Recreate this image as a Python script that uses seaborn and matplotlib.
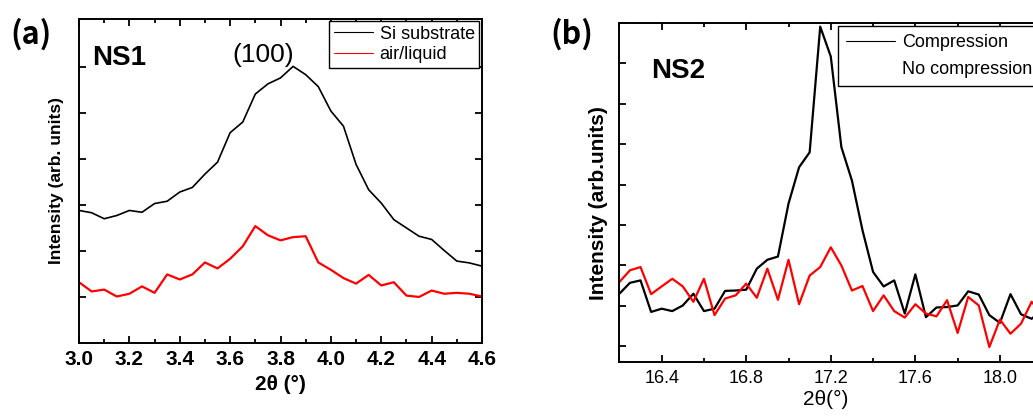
import matplotlib
matplotlib.use("Agg")
import pandas as pd
import matplotlib.pyplot as plt
import seaborn as sns
from matplotlib.ticker import MultipleLocator, FixedLocator

sns.set_style("ticks")
plt.rcParams["font.family"] = ["Liberation Sans", "DejaVu Sans"]
plt.rcParams["text.color"] = "black"
plt.rcParams["axes.labelcolor"] = "black"
plt.rcParams["xtick.color"] = "black"
plt.rcParams["ytick.color"] = "black"

# ---- data (arbitrary intensity units) ----
two_theta_a = [3.00, 3.05, 3.10, 3.15, 3.20, 3.25, 3.30, 3.35, 3.40, 3.45, 3.50,
               3.55, 3.60, 3.65, 3.70, 3.75, 3.80, 3.85, 3.90, 3.95, 4.00, 4.05,
               4.10, 4.15, 4.20, 4.25, 4.30, 4.35, 4.40, 4.45, 4.50, 4.55, 4.60]
si_substrate = [2.88, 2.83, 2.70, 2.77, 2.88, 2.84, 3.03, 3.08, 3.28, 3.38, 3.67,
                3.93, 4.57, 4.80, 5.41, 5.63, 5.76, 6.01, 5.83, 5.57, 5.04, 4.71,
                3.88, 3.33, 3.04, 2.68, 2.50, 2.32, 2.25, 2.01, 1.78, 1.74, 1.67]
air_liquid = [1.32, 1.12, 1.16, 1.01, 1.07, 1.23, 1.09, 1.49, 1.38, 1.49, 1.75,
              1.62, 1.83, 2.10, 2.54, 2.34, 2.23, 2.30, 2.32, 1.75, 1.59, 1.41,
              1.29, 1.48, 1.25, 1.32, 1.03, 1.00, 1.14, 1.07, 1.09, 1.07, 1.01]

two_theta_b = [16.20, 16.25, 16.30, 16.35, 16.40, 16.45, 16.50, 16.55, 16.60, 16.65,
               16.70, 16.75, 16.80, 16.85, 16.90, 16.95, 17.00, 17.05, 17.10, 17.15,
               17.20, 17.25, 17.30, 17.35, 17.40, 17.45, 17.50, 17.55, 17.60, 17.65,
               17.70, 17.75, 17.80, 17.85, 17.90, 17.95, 18.00, 18.05, 18.10, 18.15,
               18.20]
compression = [2.30, 2.57, 2.63, 1.85, 1.93, 1.87, 2.01, 2.30, 1.87, 1.93,
               2.37, 2.38, 2.40, 2.92, 3.14, 3.22, 4.53, 5.43, 5.80, 8.91,
               8.17, 5.93, 5.10, 3.87, 2.84, 2.48, 2.63, 1.81, 2.78, 1.72,
               1.96, 1.97, 2.01, 2.36, 2.28, 1.77, 1.58, 2.29, 1.79, 1.68,
               1.90]
no_compression = [2.59, 2.88, 2.96, 2.29, 2.48, 2.67, 2.48, 2.10, 2.67, 1.77,
                  2.18, 2.26, 2.55, 2.20, 2.92, 2.15, 3.14, 2.04, 2.75, 2.96,
                  3.45, 3.00, 2.38, 2.49, 1.87, 2.26, 1.87, 1.71, 2.04, 1.81,
                  1.74, 2.14, 1.33, 2.22, 2.01, 0.98, 1.66, 1.31, 1.56, 2.10,
                  1.80]

labels_a = ["Si substrate", "air/liquid"]
labels_b = ["Compression", "No compression"]

df_a = pd.concat([
    pd.DataFrame({"two_theta": two_theta_a, "intensity": si_substrate, "sample": labels_a[0]}),
    pd.DataFrame({"two_theta": two_theta_a, "intensity": air_liquid, "sample": labels_a[1]}),
])
df_b = pd.concat([
    pd.DataFrame({"two_theta": two_theta_b, "intensity": compression, "sample": labels_b[0]}),
    pd.DataFrame({"two_theta": two_theta_b, "intensity": no_compression, "sample": labels_b[1]}),
])

fig = plt.figure(figsize=(10.33, 4.19), dpi=100)
ax1 = fig.add_axes([0.0765, 0.1814, 0.3901, 0.7733])
ax2 = fig.add_axes([0.5996, 0.1360, 0.4093, 0.8091])

sns.lineplot(data=df_a, x="two_theta", y="intensity", hue="sample", hue_order=labels_a,
             palette={labels_a[0]: "black", labels_a[1]: "red"}, estimator=None,
             sort=False, legend=False, ax=ax1)
ax1.lines[0].set_linewidth(1.2)
ax1.lines[1].set_linewidth(1.6)

sns.lineplot(data=df_b, x="two_theta", y="intensity", hue="sample", hue_order=labels_b,
             palette={labels_b[0]: "black", labels_b[1]: "red"}, estimator=None,
             sort=False, legend=False, ax=ax2, linewidth=1.6)

# panel (a) axes
ax1.set_xlim(3.0, 4.6)
ax1.set_ylim(0, 7.04)
ax1.xaxis.set_major_locator(MultipleLocator(0.2))
ax1.xaxis.set_minor_locator(MultipleLocator(0.1))
ax1.xaxis.set_major_formatter(plt.FormatStrFormatter("%.1f"))
ax1.yaxis.set_major_locator(FixedLocator([1, 2, 3, 4, 5, 6]))
ax1.set_yticklabels([])
ax1.tick_params(which="both", direction="in", top=True, right=True, width=1.3)
ax1.tick_params(which="major", length=5, pad=5, labelsize=15)
ax1.tick_params(which="minor", length=3)
for t in ax1.get_xticklabels():
    t.set_fontweight("bold")
ax1.set_xlabel("2θ (°)", fontsize=15, fontweight="bold")
ax1.xaxis.set_label_coords(0.5, -0.10)
ax1.set_ylabel("Intensity (arb. units)", fontsize=12.5, fontweight="bold")
ax1.yaxis.set_label_coords(-0.037, 0.5)

# panel (b) axes
ax2.set_xlim(16.2, 18.2)
ax2.set_ylim(0.61, 9.0)
ax2.xaxis.set_major_locator(MultipleLocator(0.4))
ax2.xaxis.set_minor_locator(MultipleLocator(0.2))
ax2.xaxis.set_major_formatter(plt.FormatStrFormatter("%.1f"))
ax2.yaxis.set_major_locator(MultipleLocator(1))
ax2.set_yticklabels([])
ax2.tick_params(which="both", direction="in", top=True, right=True, width=1.3)
ax2.tick_params(which="major", length=5, pad=6, labelsize=13)
ax2.tick_params(which="minor", length=3)
ax2.set_xlabel("2θ(°)", fontsize=15)
ax2.xaxis.set_label_coords(0.489, -0.083)
ax2.set_ylabel("Intensity (arb.units)", fontsize=15, fontweight="bold")
ax2.yaxis.set_label_coords(-0.027, 0.469)

for ax in (ax1, ax2):
    for s in ax.spines.values():
        s.set_linewidth(1.4)
        s.set_color("black")

# legends
leg1 = ax1.legend(handles=ax1.lines[:2], labels=labels_a, loc="upper left",
                  bbox_to_anchor=(329 / 1033, 1 - 21 / 419), bbox_transform=fig.transFigure,
                  fontsize=13, frameon=True, fancybox=False, framealpha=1,
                  edgecolor="black", handlelength=2.2, handletextpad=0.35,
                  labelspacing=0.2, borderpad=0.25, borderaxespad=0)
leg1.get_frame().set_linewidth(1.0)
for ln in leg1.get_lines():
    ln.set_linewidth(0.8)

leg2 = ax2.legend(handles=ax2.lines[:2], labels=labels_b, loc="upper left",
                  bbox_to_anchor=(838 / 1033, 1 - 26 / 419), bbox_transform=fig.transFigure,
                  fontsize=13, frameon=True, fancybox=False, framealpha=1,
                  edgecolor="black", handlelength=2.7, handletextpad=0.4,
                  labelspacing=0.55, borderpad=0.45, borderaxespad=0)
leg2.get_frame().set_linewidth(1.0)
leg_lines = leg2.get_lines()
leg_lines[0].set_linewidth(0.8)
leg_lines[1].set_visible(False)

# annotations
ax1.text(0.032, 0.858, "NS1", transform=ax1.transAxes, fontsize=20, fontweight="bold",
         va="baseline", ha="left")
ax1.text(3.73, 6.11, "(100)", fontsize=19, ha="center", va="baseline")
ax2.text(0.075, 0.838, "NS2", transform=ax2.transAxes, fontsize=20, fontweight="bold",
         va="baseline", ha="left")

fig.text(10 / 1033, 1 - 34 / 419, "(a)", fontsize=22, fontweight="bold", va="center",
         ha="left", family=["Noto Sans CJK JP", "DejaVu Sans"])
fig.text(550 / 1033, 1 - 34 / 419, "(b)", fontsize=22, fontweight="bold", va="center",
         ha="left", family=["Noto Sans CJK JP", "DejaVu Sans"])

fig.savefig("out.png", dpi=100)
